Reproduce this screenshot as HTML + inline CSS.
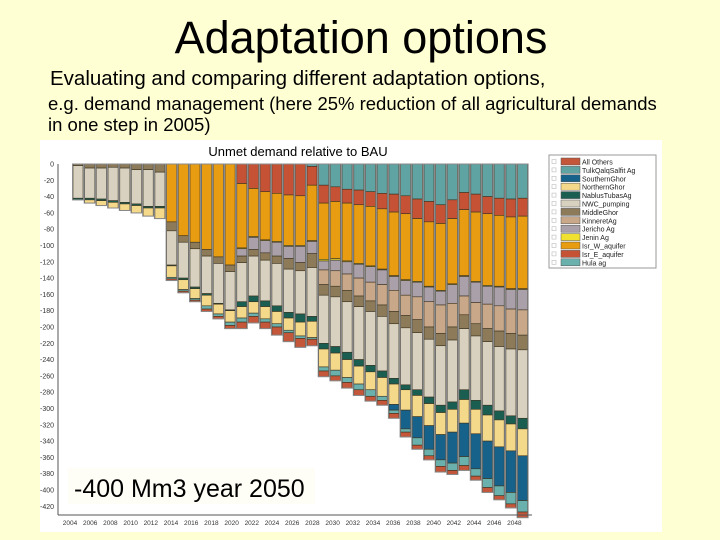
<!DOCTYPE html>
<html><head><meta charset="utf-8"><style>
body{margin:0;background:#ffffd4;}
#wrap{position:relative;width:720px;height:540px;background:#ffffd4;overflow:hidden;font-family:"Liberation Sans",sans-serif;}
.t{position:absolute;white-space:nowrap;color:#000;}
</style></head><body>
<div id="wrap">
<div class="t" style="left:0;width:722px;text-align:center;top:12px;font-size:45px;">Adaptation options</div>
<div class="t" style="left:50px;top:67px;font-size:20.5px;">Evaluating and comparing different adaptation options,</div>
<div class="t" style="left:48px;top:93px;font-size:18.5px;">e.g. demand management (here 25% reduction of all agricultural demands</div>
<div class="t" style="left:48px;top:114px;font-size:18.5px;">in one step in 2005)</div>
<svg id="chart" width="720" height="540" style="position:absolute;left:0;top:0" xmlns="http://www.w3.org/2000/svg">
<rect x="40" y="140" width="622" height="392" fill="#ffffff"/>
<g id="bars"></g>
<g id="axes"></g>
<rect x="180" y="143" width="245" height="17" fill="#ffffff"/>
<text x="298" y="156" font-size="13" text-anchor="middle" font-family="Liberation Sans, sans-serif">Unmet demand relative to BAU</text>
<rect x="68" y="468" width="247" height="36" fill="#fffef6"/>
<text x="74" y="497" font-size="25" font-family="Liberation Sans, sans-serif">-400 Mm3 year 2050</text>
<g id="legend"></g>
</svg>
</div>
<script>
const years=["2004","2006","2008","2010","2012","2014","2016","2018","2020","2022","2024","2026","2028","2030","2032","2034","2036","2038","2040","2042","2044","2046","2048"];
const yTicks=[0,-20,-40,-60,-80,-100,-120,-140,-160,-180,-200,-220,-240,-260,-280,-300,-320,-340,-360,-380,-400,-420];
const seriesNames=["TulkQalqSalfit Ag","Isr_E_aquifer","Isr_W_aquifer","Jenin Ag","Jericho Ag","KinneretAg","MiddleGhor","NWC_pumping","NablusTubasAg","NorthernGhor","SouthernGhor","Hula ag","All Others"];
const seriesColors=["#5fa3a3","#c65236","#e89c12","#f0e030","#aaa0aa","#c9a889","#8c7a58","#d8d1bf","#1a5e52","#f5d98a","#17628a","#6ab0ac","#c4573a"];
const sTulk=[0,0,0,0,0,0,0,0,0,0,0,0,0,0,0,0,0,0,0,0,3,26,28,31,32,34,36,37,39,43,46,50,44,35,37,40,42,43,42];
const sIsrE=[0,0,0,0,0,0,0,0,0,0,0,0,0,0,24,30,34,36,38,39,23,22,18,17,18,18,19,22,22,24,25,23,23,21,22,21,21,22,22];
const sIsrW=[0,0,0,0,0,0,0,0,71,88,96,105,114,124,79,59,59,59,62,61,68,69,70,71,72,73,74,78,81,77,79,82,80,81,85,88,87,88,89];
const sJenin=[0,0,0,0,0,0,0,0,0,0,0,0,0,0,1,1,1,1,1,1,1,2,2,1,1,1,1,1,1,1,1,1,1,1,1,1,1,1,1];
const sJericho=[0,0,0,0,0,0,0,0,0,0,0,0,0,0,9,15,15,17,15,20,15,11,13,15,17,19,18,17,18,18,18,17,23,24,25,22,23,24,25];
const sKinneret=[0,0,0,0,0,0,0,0,0,0,0,0,0,0,0,0,0,0,0,0,0,18,19,20,22,23,25,26,25,28,31,35,29,23,26,30,31,30,31];
const sMiddle=[2,5,5,4,5,7,7,10,11,8,8,8,8,8,8,8,9,9,13,10,17,13,13,14,13,13,14,15,15,16,15,15,16,17,15,16,19,19,18];
const sNWC=[40,37,38,41,42,42,45,42,42,44,47,46,49,47,48,49,50,52,53,53,60,59,61,62,65,66,67,67,70,70,71,73,76,75,79,78,79,82,84];
const sNablus=[2,2,2,2,2,2,2,2,1,2,2,2,1,1,6,7,7,7,7,10,6,7,8,9,8,8,8,7,6,7,8,9,9,12,11,12,11,10,13];
const sNorth=[0,4,6,7,8,9,10,13,14,12,12,13,12,14,14,14,15,15,15,17,20,22,21,22,22,22,23,25,25,26,27,27,28,29,30,32,33,33,33];
const sSouth=[0,0,0,0,0,0,0,0,0,0,0,0,0,0,0,0,0,0,0,0,0,0,0,0,0,0,0,7,23,26,29,31,38,41,43,46,48,51,55];
const sHula=[0,0,0,0,0,0,0,0,2,2,2,4,3,4,5,4,4,4,3,3,2,5,7,6,7,8,5,4,4,9,8,8,9,11,9,11,12,14,14];
const sOthers=[0,0,0,0,0,0,0,0,2,2,2,3,3,4,8,8,8,10,11,11,8,7,6,7,7,6,6,6,6,5,5,7,5,6,5,6,5,5,7];
const series=[sTulk,sIsrE,sIsrW,sJenin,sJericho,sKinneret,sMiddle,sNWC,sNablus,sNorth,sSouth,sHula,sOthers];
const legendOrder=[12,0,10,9,8,7,6,5,4,3,2,1,11];
const legendLabels=["All Others","TulkQalqSalfit Ag","SouthernGhor","NorthernGhor","NablusTubasAg","NWC_pumping","MiddleGhor","KinneretAg","Jericho Ag","Jenin Ag","Isr_W_aquifer","Isr_E_aquifer","Hula ag"];

const NS="http://www.w3.org/2000/svg";
const y0=164, pxPerUnit=0.815;
function yScale(v){return y0 - v*pxPerUnit;}
function xScale(i){return 73 + i*11.7;}
const barW=10;
function mk(tag,attrs,parent){const e=document.createElementNS(NS,tag);for(const k in attrs)e.setAttribute(k,attrs[k]);parent.appendChild(e);return e;}

const gb=document.getElementById('bars');
const n=sNWC.length;
for(let i=0;i<n;i++){
  let cum=0;
  const x=xScale(i);
  const g=mk('g',{},gb);
  
  
  for(let s=0;s<series.length;s++){
    const v=series[s][i]; if(!v) continue;
    const yt=yScale(-cum), yb=yScale(-(cum+v));
    const r=mk('rect',{x:x,y:yt,width:barW,height:yb-yt,fill:seriesColors[s],stroke:'#3b3320','stroke-width':0.6},g);
    
    
    cum+=v;
  }
  const o=mk('rect',{x:x-0.5,y:yScale(0),width:barW+1,height:yScale(-cum)-yScale(0),fill:'none',stroke:'#8a8a8a','stroke-width':1},g);
  
  
}

const ga=document.getElementById('axes');
const yl=mk('line',{x1:58,y1:yScale(0),x2:58,y2:515,stroke:'#555','stroke-width':1},ga);


const xl=mk('line',{x1:58,y1:515,x2:532,y2:515,stroke:'#555','stroke-width':1},ga);


yTicks.forEach(t=>{
  const tx=mk('text',{x:54,y:yScale(t)+2.5,'font-size':7,'text-anchor':'end',fill:'#333','font-family':'Liberation Sans, sans-serif'},ga);
  tx.textContent=String(t);
  
  
});
years.forEach((yr,k)=>{
  const tx=mk('text',{x:70+k*20.2,y:525,'font-size':6.5,'text-anchor':'middle',fill:'#333','font-family':'Liberation Sans, sans-serif'},ga);
  tx.textContent=yr;
  
  
});

const gl=document.getElementById('legend');
const lb=mk('rect',{x:549,y:155,width:107,height:113,fill:'#fff',stroke:'#999','stroke-width':1},gl);


legendLabels.forEach((lab,k)=>{
  const y=158+k*8.4;
  const g=mk('g',{},gl);
  
  
  mk('rect',{x:552,y:y+1.5,width:4,height:4,fill:'#fff',stroke:'#bbb','stroke-width':0.6},g);
  mk('rect',{x:561,y:y,width:19,height:7,fill:seriesColors[legendOrder[k]],stroke:'#555','stroke-width':0.5},g);
  const t=mk('text',{x:582,y:y+6.5,'font-size':7,fill:'#222','font-family':'Liberation Sans, sans-serif'},g);
  t.textContent=lab;
});
</script>
</body></html>
